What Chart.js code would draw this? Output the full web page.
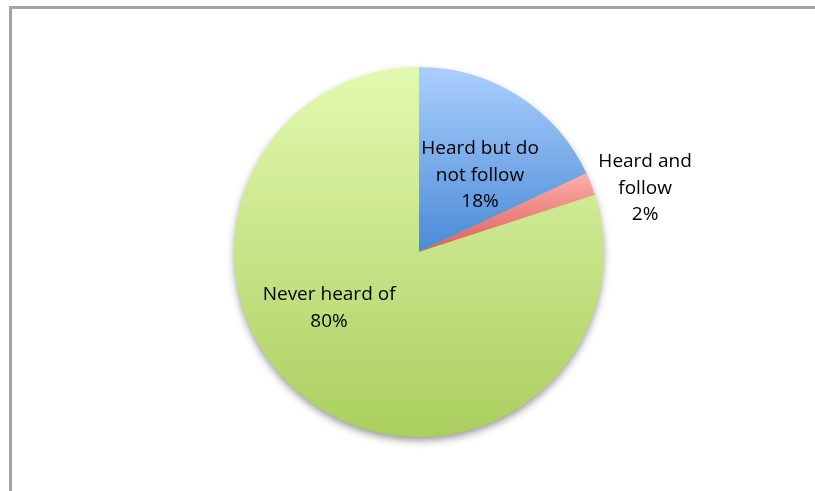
<!DOCTYPE html>
<html>
<head>
<meta charset="utf-8">
<script src="https://cdn.jsdelivr.net/npm/chart.js@4.4.1/dist/chart.umd.min.js"></script>
<style>
  html, body { margin: 0; padding: 0; background: #fff; overflow: hidden; }
  #wrap { position: relative; width: 815px; height: 491px; }
  #marco { position: absolute; left: 9px; top: 6px; width: 900px; height: 600px; border: 3px solid #a4a4a4; box-sizing: border-box; }
  #grafico { position: absolute; left: 0; top: 0; }
</style>
</head>
<body>
<div id="wrap">
  <div id="marco"></div>
  <canvas id="grafico" width="815" height="491"></canvas>
</div>
<script>
// Categorías y porcentajes de la encuesta
const categorias = [['Heard but do', 'not follow'], ['Heard and', 'follow'], ['Never heard of']];
const porcentajes = [18, 2, 80];

// Degradados (claro arriba, oscuro abajo) para cada porción
const coloresArriba = ['#abcffd', '#fbb0ab', '#e3f9b0'];
const coloresAbajo = ['#4a8ad6', '#e05c58', '#abcf5f'];

// Posición de cada etiqueta, en fracciones del radio respecto al centro
const posEtiquetas = [[0.33, -0.419], [1.222, -0.351], [-0.486, 0.297]];

// Calcula la caja vertical de una porción para ajustar su degradado
function limitesPorcion(i, cy, r) {
  const total = porcentajes.reduce((a, b) => a + b, 0);
  let inicio = -Math.PI / 2;
  for (let k = 0; k < i; k++) inicio += porcentajes[k] / total * Math.PI * 2;
  const fin = inicio + porcentajes[i] / total * Math.PI * 2;
  let minY = cy, maxY = cy;
  for (let n = 0; n <= 60; n++) {
    const a = inicio + (fin - inicio) * n / 60;
    const y = cy + Math.sin(a) * r;
    minY = Math.min(minY, y);
    maxY = Math.max(maxY, y);
  }
  return [minY, maxY];
}

function degradado(context) {
  const chart = context.chart;
  const area = chart.chartArea;
  const i = context.dataIndex;
  if (!area) return coloresAbajo[i];
  const cy = (area.top + area.bottom) / 2;
  const r = Math.min(area.right - area.left, area.bottom - area.top) / 2;
  const [y0, y1] = limitesPorcion(i, cy, r);
  const g = chart.ctx.createLinearGradient(0, y0, 0, y1);
  g.addColorStop(0, coloresArriba[i]);
  g.addColorStop(1, coloresAbajo[i]);
  return g;
}

// Sombra suave debajo del círculo
const sombraPlugin = {
  id: 'sombra',
  beforeDatasetsDraw(chart) {
    const arc = chart.getDatasetMeta(0).data[0];
    if (!arc) return;
    const ctx = chart.ctx;
    ctx.save();
    ctx.shadowColor = 'rgba(0, 0, 0, 0.45)';
    ctx.shadowBlur = 9;
    ctx.shadowOffsetY = 4;
    ctx.fillStyle = '#b0d262';
    ctx.beginPath();
    ctx.arc(arc.x, arc.y, arc.outerRadius - 1, 0, Math.PI * 2);
    ctx.fill();
    ctx.restore();
  }
};

// Etiquetas con categoría y porcentaje
const etiquetasPlugin = {
  id: 'etiquetas',
  afterDatasetsDraw(chart) {
    const meta = chart.getDatasetMeta(0);
    const arc = meta.data[0];
    if (!arc) return;
    const ctx = chart.ctx;
    ctx.save();
    ctx.font = '19px "Open Sans", sans-serif';
    ctx.fillStyle = '#000';
    ctx.textAlign = 'center';
    ctx.textBaseline = 'alphabetic';
    const interlineado = 26.5;
    categorias.forEach((cat, i) => {
      const lineas = cat.concat([porcentajes[i] + '%']);
      const cx = arc.x + posEtiquetas[i][0] * arc.outerRadius;
      const cy = arc.y + posEtiquetas[i][1] * arc.outerRadius;
      lineas.forEach((txt, j) => {
        const y = cy + (j - (lineas.length - 1) / 2) * interlineado + 6.5;
        ctx.fillText(txt, cx, y);
      });
    });
    ctx.restore();
  }
};

new Chart(document.getElementById('grafico'), {
  type: 'pie',
  data: {
    labels: categorias.map(c => c.join(' ')),
    datasets: [{
      data: porcentajes,
      backgroundColor: degradado,
      borderWidth: 0,
    }],
  },
  options: {
    responsive: false,
    animation: false,
    layout: { padding: { left: 200, right: 177, top: 67, bottom: 54 } },
    plugins: {
      legend: { display: false },
      tooltip: { enabled: false },
    },
  },
  plugins: [sombraPlugin, etiquetasPlugin],
});
</script>
</body>
</html>
